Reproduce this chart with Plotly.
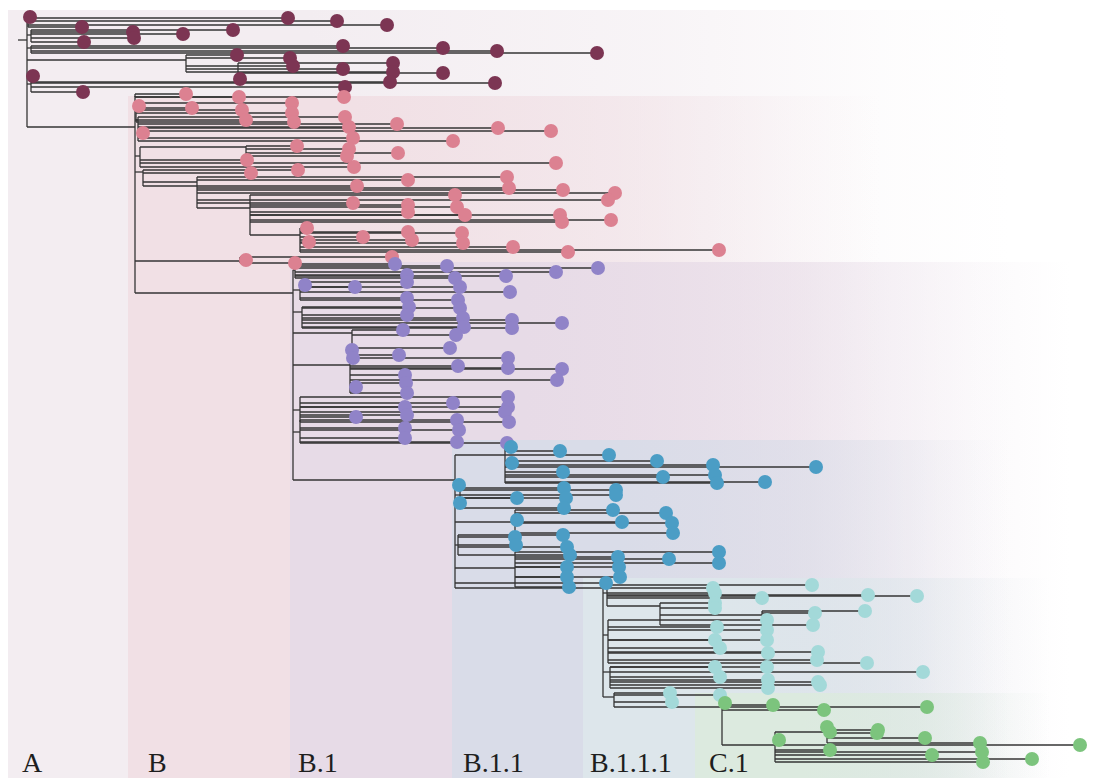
import plotly.graph_objects as go
from collections import defaultdict

# ---------------- data ----------------
clade_names = ["A", "B", "B.1", "B.1.1", "B.1.1.1", "C.1"]
clade_label_div = [20, 146, 296, 461, 588, 707]
clade_label_pos = [762, 762, 762, 762, 762, 762]

# background band per clade: start divergence, fade-out divergence, top tip position
band_start = [8, 128, 290, 452, 583, 695]
band_end = [1010, 880, 1070, 1010, 1050, 1050]
band_top = [10, 96, 262, 440, 578, 693]
band_bottom = 778

root_stub = 18

# internal nodes: (name, parent, divergence, position, clade)
nodes = [
    ("R", None, 27, 40, "A"),
    ("A1", "R", 28, 22, "A"),
    ("A2", "R", 31, 35, "A"),
    ("A3", "R", 31, 48, "A"),
    ("A4", "R", 186, 60, "A"),
    ("A5", "A4", 238, 72, "A"),
    ("A6", "R", 31, 84, "A"),
    ("B", "R", 135, 127, "B"),
    ("Ba", "B", 135, 96, "B"),
    ("Bb", "B", 136, 104, "B"),
    ("Bc", "B", 138, 120, "B"),
    ("Bd", "B", 140, 156, "B"),
    ("Bd1", "Bd", 246, 147, "B"),
    ("Be", "B", 143, 172, "B"),
    ("Bf", "Be", 197, 182, "B"),
    ("Bg", "Bf", 250, 208, "B"),
    ("Bh", "Bg", 300, 235, "B"),
    ("Bi", "B", 240, 261, "B"),
    ("B1", "B", 293, 293, "B.1"),
    ("B1a", "B1", 295, 270, "B.1"),
    ("B1b", "B1", 300, 290, "B.1"),
    ("B1c", "B1", 302, 312, "B.1"),
    ("B1d", "B1", 352, 333, "B.1"),
    ("B1e", "B1", 350, 365, "B.1"),
    ("B1f", "B1", 300, 410, "B.1"),
    ("B1g", "B1", 300, 432, "B.1"),
    ("B11", "B1", 455, 480, "B.1.1"),
    ("B11a", "B11", 505, 455, "B.1.1"),
    ("B11b", "B11", 460, 495, "B.1.1"),
    ("B11c", "B11", 515, 522, "B.1.1"),
    ("B11d", "B11", 458, 545, "B.1.1"),
    ("B11e", "B11", 515, 568, "B.1.1"),
    ("B111", "B11", 603, 588, "B.1.1.1"),
    ("B111a", "B111", 607, 593, "B.1.1.1"),
    ("B111a1", "B111a", 660, 606, "B.1.1.1"),
    ("B111a2", "B111a1", 762, 615, "B.1.1.1"),
    ("B111b", "B111", 608, 635, "B.1.1.1"),
    ("B111c", "B111", 610, 672, "B.1.1.1"),
    ("B111d", "B111", 614, 697, "B.1.1.1"),
    ("C1", "B111d", 722, 707, "C.1"),
    ("C1a", "C1", 775, 745, "C.1"),
    ("C1b", "C1a", 827, 732, "C.1"),
]

# tips: (parent node, divergence, position)
tips_A = [
    ("R", 30, 17),
    ("A1", 82, 27), ("A1", 288, 18), ("A1", 337, 21), ("A1", 387, 25),
    ("A2", 133, 32), ("A2", 183, 34), ("A2", 233, 30), ("A2", 84, 42), ("A2", 134, 38),
    ("A3", 343, 46), ("A3", 443, 48), ("A3", 497, 51), ("A3", 597, 53),
    ("A4", 237, 55), ("A4", 290, 58), ("A4", 293, 66), ("A4", 343, 69),
    ("A5", 393, 63), ("A5", 393, 72), ("A5", 443, 73), ("A5", 240, 79),
    ("A6", 33, 76), ("A6", 345, 87), ("A6", 390, 82), ("A6", 495, 83), ("A6", 83, 92),
]
tips_B = [
    ("Ba", 186, 94), ("Ba", 239, 97), ("Ba", 344, 97),
    ("Bb", 139, 106), ("Bb", 192, 108), ("Bb", 242, 110), ("Bb", 292, 103),
    ("Bb", 292, 113), ("Bb", 294, 122), ("Bb", 246, 120),
    ("Bc", 143, 133), ("Bc", 345, 117), ("Bc", 349, 127), ("Bc", 397, 124),
    ("Bc", 498, 128), ("Bc", 551, 131), ("Bc", 353, 138), ("Bc", 453, 141),
    ("Bd", 556, 163), ("Bd", 247, 160), ("Bd", 354, 167),
    ("Bd1", 297, 146), ("Bd1", 349, 149), ("Bd1", 347, 156), ("Bd1", 398, 153),
    ("Be", 251, 173), ("Be", 298, 170), ("Be", 357, 186),
    ("Bf", 408, 180), ("Bf", 507, 177), ("Bf", 509, 188), ("Bf", 563, 190),
    ("Bf", 615, 193), ("Bf", 608, 200), ("Bf", 353, 203),
    ("Bg", 408, 205), ("Bg", 408, 212), ("Bg", 455, 195), ("Bg", 457, 207),
    ("Bg", 465, 215), ("Bg", 560, 215), ("Bg", 562, 222), ("Bg", 611, 220),
    ("Bh", 307, 228), ("Bh", 309, 242), ("Bh", 363, 237), ("Bh", 408, 232),
    ("Bh", 412, 240), ("Bh", 462, 233), ("Bh", 463, 243), ("Bh", 513, 247),
    ("Bh", 568, 252), ("Bh", 719, 250),
    ("Bi", 246, 260), ("Bi", 295, 263), ("Bi", 392, 257),
]
tips_B1 = [
    ("B1a", 395, 264), ("B1a", 447, 266), ("B1a", 598, 268), ("B1a", 556, 272),
    ("B1a", 407, 275), ("B1a", 455, 278), ("B1a", 506, 276),
    ("B1b", 305, 285), ("B1b", 355, 287), ("B1b", 407, 282), ("B1b", 460, 287),
    ("B1b", 510, 292), ("B1b", 407, 298), ("B1b", 458, 300),
    ("B1c", 409, 307), ("B1c", 407, 315), ("B1c", 460, 308), ("B1c", 463, 318),
    ("B1c", 512, 320), ("B1c", 562, 323), ("B1c", 464, 327), ("B1c", 512, 328),
    ("B1d", 403, 330), ("B1d", 456, 335), ("B1d", 450, 348),
    ("B1e", 352, 350), ("B1e", 353, 358), ("B1e", 399, 355), ("B1e", 508, 358),
    ("B1e", 508, 368), ("B1e", 458, 366), ("B1e", 562, 369), ("B1e", 557, 380),
    ("B1e", 356, 387), ("B1e", 405, 375), ("B1e", 406, 383), ("B1e", 407, 393),
    ("B1f", 405, 407), ("B1f", 407, 415), ("B1f", 453, 403), ("B1f", 508, 397),
    ("B1f", 508, 407), ("B1f", 505, 412), ("B1f", 509, 422), ("B1f", 356, 417),
    ("B1g", 457, 420), ("B1g", 459, 430), ("B1g", 457, 442), ("B1g", 405, 428),
    ("B1g", 405, 438), ("B1g", 507, 443),
]
tips_B11 = [
    ("B11a", 511, 447), ("B11a", 560, 451), ("B11a", 609, 455), ("B11a", 657, 461),
    ("B11a", 713, 465), ("B11a", 816, 467), ("B11a", 512, 463), ("B11a", 563, 472),
    ("B11a", 663, 477), ("B11a", 715, 475), ("B11a", 717, 483), ("B11a", 765, 482),
    ("B11b", 459, 485), ("B11b", 460, 503), ("B11b", 517, 498), ("B11b", 564, 488),
    ("B11b", 566, 498), ("B11b", 564, 508), ("B11b", 616, 490), ("B11b", 616, 495),
    ("B11c", 517, 520), ("B11c", 613, 510), ("B11c", 622, 522), ("B11c", 666, 513),
    ("B11c", 672, 523), ("B11c", 673, 533),
    ("B11d", 515, 537), ("B11d", 516, 545), ("B11d", 563, 535), ("B11d", 567, 547),
    ("B11d", 570, 555),
    ("B11e", 719, 552), ("B11e", 719, 563), ("B11e", 669, 559), ("B11e", 618, 557),
    ("B11e", 619, 567), ("B11e", 620, 577), ("B11e", 567, 567), ("B11e", 567, 577),
    ("B11e", 569, 587),
    ("B11", 606, 583),
]
tips_B111 = [
    ("B111a", 713, 588), ("B111a", 812, 585), ("B111a", 715, 593), ("B111a", 762, 598),
    ("B111a", 868, 595), ("B111a", 917, 596),
    ("B111a1", 715, 603), ("B111a1", 715, 608), ("B111a1", 813, 625),
    ("B111a2", 815, 613), ("B111a2", 865, 611),
    ("B111b", 717, 627), ("B111b", 767, 620), ("B111b", 767, 630), ("B111b", 767, 640),
    ("B111b", 715, 640), ("B111b", 720, 648), ("B111b", 768, 653), ("B111b", 818, 652),
    ("B111b", 817, 660), ("B111b", 867, 663),
    ("B111c", 715, 667), ("B111c", 767, 667), ("B111c", 720, 677), ("B111c", 923, 672),
    ("B111c", 768, 680), ("B111c", 818, 682), ("B111c", 820, 685), ("B111c", 768, 688),
    ("B111d", 670, 693), ("B111d", 672, 702), ("B111d", 720, 695),
]
tips_C1 = [
    ("C1", 725, 703), ("C1", 773, 705), ("C1", 824, 710), ("C1", 927, 707),
    ("C1a", 779, 740), ("C1a", 830, 750), ("C1a", 932, 755), ("C1a", 982, 752),
    ("C1a", 983, 762), ("C1a", 1032, 759), ("C1a", 1080, 745),
    ("C1b", 827, 727), ("C1b", 830, 732), ("C1b", 877, 733), ("C1b", 878, 730),
    ("C1b", 925, 738), ("C1b", 980, 743),
]

# ---------------- style ----------------
tip_colors = {
    "A": "#7c3553", "B": "#dc8191", "B.1": "#9083c8",
    "B.1.1": "#4b9dc5", "B.1.1.1": "#a3d9d9", "C.1": "#7cc47d",
}
band_rgb = [
    (243, 237, 241), (241, 224, 229), (231, 219, 231),
    (217, 220, 232), (221, 230, 235), (220, 234, 223),
]

fig = go.Figure()

# background bands with horizontal fade
for i, name in enumerate(clade_names):
    r, g, b = band_rgb[i]
    x0, x1, y0 = band_start[i], band_end[i], band_top[i]
    fig.add_trace(go.Scatter(
        x=[x0, x1, x1, x0, x0], y=[y0, y0, band_bottom, band_bottom, y0],
        mode="lines", fill="toself", line=dict(width=0),
        fillgradient=dict(type="horizontal", colorscale=[
            [0, f"rgba({r},{g},{b},1)"], [0.3, f"rgba({r},{g},{b},1)"],
            [0.65, f"rgba({r},{g},{b},0.6)"], [0.88, f"rgba({r},{g},{b},0.15)"],
            [1, f"rgba({r},{g},{b},0)"]]),
        hoverinfo="skip", showlegend=False))

# tree branches
node_map = {n[0]: n for n in nodes}
child_pos = defaultdict(list)
lx, ly = [], []
for name, parent, x, y, clade in nodes:
    if parent is None:
        lx += [root_stub, x, None]
        ly += [y, y, None]
    else:
        px = node_map[parent][2]
        child_pos[parent].append(y)
        lx += [px, x, None]
        ly += [y, y, None]

all_tips = tips_A + tips_B + tips_B1 + tips_B11 + tips_B111 + tips_C1
for parent, x, y in all_tips:
    px = node_map[parent][2]
    child_pos[parent].append(y)
    lx += [px, x, None]
    ly += [y, y, None]

for name, parent, x, y, clade in nodes:
    ys = child_pos[name] + [y]
    lx += [x, x, None]
    ly += [min(ys), max(ys), None]

fig.add_trace(go.Scatter(x=lx, y=ly, mode="lines",
                         line=dict(color="#353535", width=1.3),
                         hoverinfo="skip", showlegend=False))

# tips
for tip_list, cname in [(tips_A, "A"), (tips_B, "B"), (tips_B1, "B.1"),
                        (tips_B11, "B.1.1"), (tips_B111, "B.1.1.1"), (tips_C1, "C.1")]:
    fig.add_trace(go.Scatter(
        x=[t[1] for t in tip_list], y=[t[2] for t in tip_list], mode="markers",
        marker=dict(size=14, color=tip_colors[cname], line=dict(width=0)),
        name=cname, showlegend=False))

# clade labels
for name, lxp, lyp in zip(clade_names, clade_label_div, clade_label_pos):
    fig.add_annotation(x=lxp, y=lyp, text=name, showarrow=False,
                       xanchor="left", yanchor="middle",
                       font=dict(family="Liberation Serif, Times New Roman, serif",
                                 size=28, color="#1e1e1e"))

fig.update_layout(
    width=1094, height=780, margin=dict(l=0, r=0, t=0, b=0),
    paper_bgcolor="white", plot_bgcolor="white",
    xaxis=dict(range=[0, 1094], visible=False, fixedrange=True),
    yaxis=dict(range=[780, 0], visible=False, fixedrange=True),
)

fig.write_html("out.html", config={"displayModeBar": False},
               post_script="document.body.style.margin='0';")
